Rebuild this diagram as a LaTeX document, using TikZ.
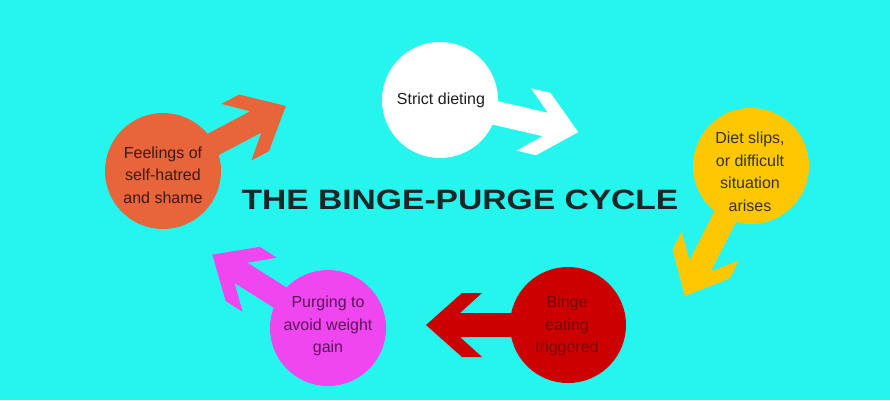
\documentclass[tikz,border=0pt]{standalone}
\usepackage{fontspec}
\setmainfont{Liberation Sans}
\usepackage{graphicx}
\definecolor{bgcyan}{RGB}{38,245,238}
\definecolor{cwhite}{RGB}{255,255,255}
\definecolor{cyellow}{RGB}{255,199,0}
\definecolor{cred}{RGB}{204,0,0}
\definecolor{cmagenta}{RGB}{240,70,240}
\definecolor{corange}{RGB}{232,100,58}
\definecolor{twhite}{RGB}{30,30,30}
\definecolor{tyellow}{RGB}{55,50,30}
\definecolor{tred}{RGB}{120,10,10}
\definecolor{tmagenta}{RGB}{90,20,90}
\definecolor{torange}{RGB}{60,25,15}
\definecolor{ttitle}{RGB}{28,38,38}
\tikzset{
  circ/.style={circle, minimum size=116pt, inner sep=0pt},
  ctext/.style={align=center, font=\fontsize{16}{22.5}\selectfont, inner sep=0pt},
}
% arrow shape: local x-axis from circle centre to tip, length #1
\newcommand{\fatarrow}[1]{%
  (0,-12) -- ({#1-34},-12) -- ({#1-56},-32) -- ({#1-36},-32) -- (#1,0)
  -- ({#1-36},32) -- ({#1-56},32) -- ({#1-34},12) -- (0,12) -- cycle}
\begin{document}
\begin{tikzpicture}[x=1pt,y=-1pt]
\fill[bgcyan] (0,0) rectangle (890,400);
\useasboundingbox (0,0) rectangle (890,400);

% circle positions
\coordinate (cW) at (440,100);
\coordinate (cY) at (751,166);
\coordinate (cR) at (568,325);
\coordinate (cM) at (328,328);
\coordinate (cO) at (163,171);

% arrows (drawn first, under the circles)
\begin{scope}[shift={(cW)}, rotate=-13.1]
  \fill[cwhite] \fatarrow{142};
\end{scope}
\begin{scope}[shift={(cY)}, rotate=-117]
  \fill[cyellow] \fatarrow{146};
\end{scope}
\begin{scope}[shift={(cR)}, rotate=180]
  \fill[cred] \fatarrow{142};
\end{scope}
\begin{scope}[shift={(cM)}, rotate=147.6]
  \fill[cmagenta] \fatarrow{137};
\end{scope}
\begin{scope}[shift={(cO)}, rotate=27.9]
  \fill[corange] \fatarrow{139};
\end{scope}

% circles
\node[circ, fill=cwhite] (white) at (cW) {};
\node[circ, fill=cyellow] (yellow) at (cY) {};
\node[circ, fill=cred] (red) at (cR) {};
\node[circ, fill=cmagenta] (magenta) at (cM) {};
\node[circ, fill=corange] (orange) at (cO) {};

% texts
\node[ctext, text=twhite] (tW) at (441,100) {Strict dieting};
\node[ctext, text=tyellow] (tY) at (750,172) {Diet slips,\\or difficult\\situation\\arises};
\node[ctext, text=tred] (tR) at (567,326) {Binge\\eating\\triggered};
\node[ctext, text=tmagenta] (tM) at (328,326) {Purging to\\avoid weight\\gain};
\node[ctext, text=torange] (tO) at (163,175) {Feelings of\\self-hatred\\and shame};

\node[inner sep=0pt, text=ttitle, font=\fontsize{28}{30}\selectfont\bfseries] (title) at (460,200)
  {\scalebox{1.2}[1]{THE BINGE-PURGE CYCLE}};
\end{tikzpicture}
\end{document}
